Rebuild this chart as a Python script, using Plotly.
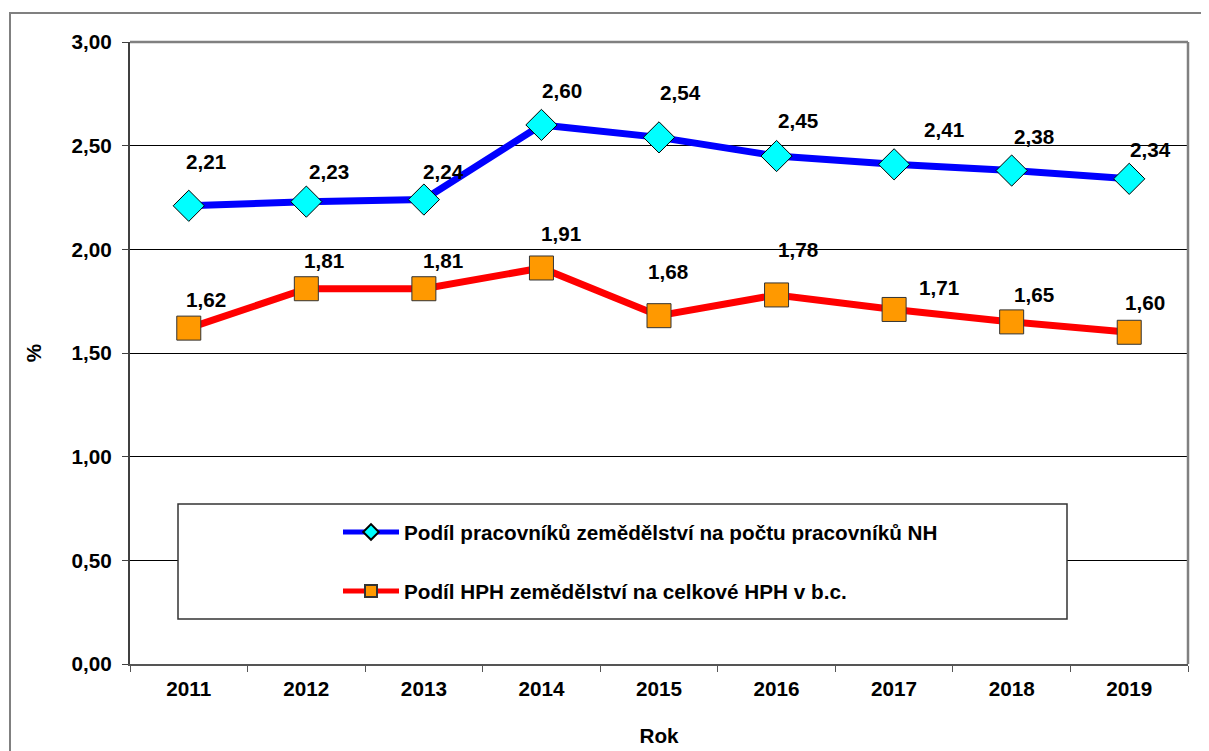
import plotly.graph_objects as go

# ---- data ----
years = ["2011", "2012", "2013", "2014", "2015", "2016", "2017", "2018", "2019"]
workers_share = [2.21, 2.23, 2.24, 2.60, 2.54, 2.45, 2.41, 2.38, 2.34]
gva_share = [1.62, 1.81, 1.81, 1.91, 1.68, 1.78, 1.71, 1.65, 1.60]
name_workers = "Podíl pracovníků zemědělství na počtu pracovníků NH"
name_gva = "Podíl HPH zemědělství na celkové HPH v b.c."
y_ticks = [0, 0.5, 1.0, 1.5, 2.0, 2.5, 3.0]

# label offsets in pixels (dx right, dy up) - styling only
workers_dx = [17, 23, 20, 21, 21, 21, 50, 22, 21]
workers_dy = [44, 30, 28, 34, 45, 36, 35, 34, 29]
gva_dx = [17, 18, 19, 20, 9, 21, 45, 22, 16]
gva_dy = [29, 28, 28, 34, 44, 45, 22, 27, 30]

FONT = "Arial, 'Liberation Sans', sans-serif"
FS = 20.7
BFONT = dict(family=FONT, size=FS, color="black", weight="bold")

fig = go.Figure()
fig.add_trace(go.Scatter(
    x=years, y=workers_share, name=name_workers, mode="lines+markers",
    line=dict(color="#0000FF", width=7),
    marker=dict(symbol="diamond", size=24, color="#00FFFF",
                line=dict(color="#000000", width=1)),
    legend="legend", cliponaxis=False,
))
fig.add_trace(go.Scatter(
    x=years, y=gva_share, name=name_gva, mode="lines+markers",
    line=dict(color="#FF0000", width=7),
    marker=dict(symbol="square", size=24, color="#FF9900",
                line=dict(color="#333333", width=1)),
    legend="legend2", cliponaxis=False,
))

def fmt(v):
    return f"{v:.2f}".replace(".", ",")

annotations = []
# x given as category index (category axis position of each year)
for i, (v, dx, dy) in enumerate(zip(workers_share, workers_dx, workers_dy)):
    annotations.append(dict(x=i, y=v, xref="x", yref="y", text=fmt(v),
                            showarrow=False, xshift=dx, yshift=dy, font=BFONT))
for i, (v, dx, dy) in enumerate(zip(gva_share, gva_dx, gva_dy)):
    annotations.append(dict(x=i, y=v, xref="x", yref="y", text=fmt(v),
                            showarrow=False, xshift=dx, yshift=dy, font=BFONT))

# page body has an 8px margin, so the figure is offset by 8px in the window
OFF = 8
W, H = 1209 - OFF, 751 - OFF
L, R, T, B = 130 - OFF, 21, 42 - OFF, 87
pw, ph = W - L - R, H - T - B   # 1058 x 622

def px(x):   # window pixel -> paper x
    return (x - 130) / pw

def py(y):   # window pixel -> paper y
    return (664 - y) / ph

shapes = [
    # outer chart frame
    dict(type="rect", xref="paper", yref="paper", x0=px(10), x1=px(1240),
         y0=py(790), y1=py(13), line=dict(color="#808080", width=2),
         fillcolor="rgba(0,0,0,0)", layer="above"),
    # top border of plot area
    dict(type="line", xref="paper", yref="paper", x0=0, x1=1, y0=1, y1=1,
         line=dict(color="#808080", width=2.5), layer="above"),
    # right border of plot area
    dict(type="line", xref="paper", yref="paper", x0=1, x1=1, y0=0, y1=1,
         line=dict(color="#808080", width=2.5), layer="above"),
    # legend box
    dict(type="rect", xref="paper", yref="paper", x0=px(178), x1=px(1067),
         y0=py(619), y1=py(504), line=dict(color="#333333", width=1.5),
         fillcolor="white", layer="above"),
]

fig.update_layout(
    width=W, height=H,
    margin=dict(l=L, r=R, t=T, b=B, pad=0, autoexpand=False),
    paper_bgcolor="white", plot_bgcolor="white",
    separators=", ",
    font=BFONT,
    showlegend=True,
    legend=dict(x=px(338), y=py(532), xanchor="left", yanchor="middle",
                bgcolor="rgba(0,0,0,0)", borderwidth=0, itemsizing="constant",
                itemwidth=56, font=BFONT),
    legend2=dict(x=px(338), y=py(591), xanchor="left", yanchor="middle",
                 bgcolor="rgba(0,0,0,0)", borderwidth=0, itemsizing="constant",
                 itemwidth=56, font=BFONT),
    xaxis=dict(type="category", range=[-0.5, len(years) - 0.5],
               showgrid=False, showline=True, linecolor="#555555", linewidth=2,
               ticks="outside", tickson="boundaries", ticklen=6,
               tickcolor="#555555", tickwidth=1, tickangle=0,
               ticklabelstandoff=5,
               tickfont=BFONT, automargin=False,
               title=dict(text="Rok", standoff=30, font=BFONT),
               zeroline=False),
    yaxis=dict(range=[0, 3], tickvals=y_ticks, tickformat=".2f",
               showgrid=True, gridcolor="#000000", gridwidth=1,
               showline=True, linecolor="#404040", linewidth=2,
               ticks="outside", ticklen=6, tickcolor="#404040", tickwidth=1,
               ticklabelstandoff=6,
               tickfont=BFONT, automargin=False,
               title=dict(text="%", standoff=24, font=BFONT),
               zeroline=False),
    annotations=annotations,
    shapes=shapes,
)

fig.write_html("out.html")
